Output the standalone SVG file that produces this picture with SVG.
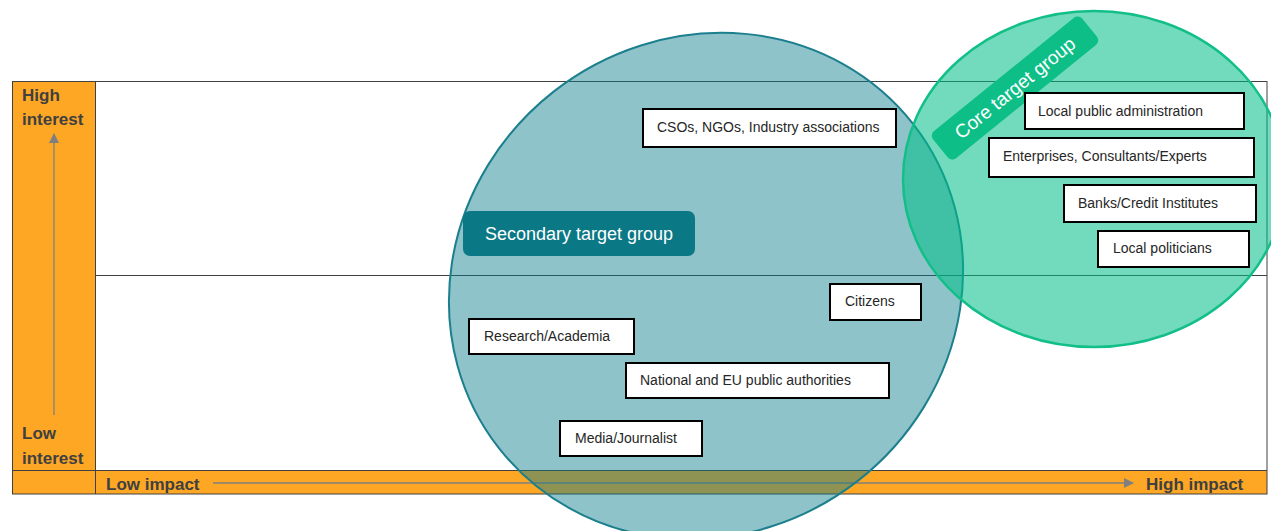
<svg xmlns="http://www.w3.org/2000/svg" width="1271" height="531" viewBox="0 0 1271 531">
  <style>
    .axis { font-family: "Liberation Sans", Arial, sans-serif; font-weight: bold; font-size: 17px; fill: #404040; }
    .box rect { fill: #ffffff; stroke: #000000; stroke-width: 2; }
    .box text { font-family: "Liberation Sans", Arial, sans-serif; font-size: 14px; fill: #262626; }
    .badge { font-family: "Liberation Sans", Arial, sans-serif; fill: #ffffff; }
    .grid { stroke: #404040; stroke-width: 1; fill: none; }
    .pointer { stroke: #7f7f7f; stroke-width: 1.3; fill: none; }
  </style>
  <defs>
    <marker id="tip" viewBox="0 0 10 10" refX="9" refY="5" markerWidth="10" markerHeight="10" markerUnits="userSpaceOnUse" orient="auto">
      <path d="M0,0 L10,5 L0,10 z" fill="#7f7f7f"/>
    </marker>
  </defs>

  <rect width="1271" height="531" fill="#ffffff"/>

  <!-- impact / interest matrix -->
  <g id="matrix">
    <rect x="12" y="81" width="83" height="413" fill="#fda724"/>
    <rect x="12" y="470" width="1255" height="24" fill="#fda724"/>
    <rect class="grid" x="12.5" y="81.5" width="1254.5" height="412.5"/>
    <line class="grid" x1="95.5" y1="81" x2="95.5" y2="494"/>
    <line class="grid" x1="12" y1="470.5" x2="1267" y2="470.5"/>
    <line class="grid" x1="95" y1="275.5" x2="1267" y2="275.5"/>
    <text class="axis" x="22" y="101">High</text>
    <text class="axis" x="22" y="125">interest</text>
    <text class="axis" x="22" y="439">Low</text>
    <text class="axis" x="22" y="464">interest</text>
    <text class="axis" x="106" y="490">Low impact</text>
    <text class="axis" x="1146" y="490">High impact</text>
  </g>

  <!-- axis arrows -->
  <g id="connectors">
    <line class="pointer" x1="54" y1="415" x2="54" y2="134" marker-end="url(#tip)"/>
    <line class="pointer" x1="213" y1="483" x2="1133" y2="483" marker-end="url(#tip)"/>
  </g>

  <!-- target group areas -->
  <g id="secondary-area">
    <ellipse cx="706" cy="286" rx="263" ry="247" transform="rotate(-38 706 286)" fill="rgb(11,125,140)" fill-opacity="0.46" stroke="#1b7f8d" stroke-width="2"/>
  </g>
  <g id="core-area">
    <ellipse cx="1094" cy="179" rx="191" ry="168" fill="rgb(0,190,135)" fill-opacity="0.55" stroke="#12bf88" stroke-width="2.5"/>
  </g>

  <g id="secondary-label">
    <rect x="463" y="211" width="232" height="45" rx="7" fill="#0b7886"/>
    <text class="badge" x="579" y="240" font-size="18" text-anchor="middle">Secondary target group</text>
  </g>
  <g id="core-label" transform="rotate(-39 1015 88)">
    <rect x="919" y="70.5" width="192" height="35" rx="6" fill="#0dbf87"/>
    <text class="badge" x="1015" y="94.5" font-size="19" text-anchor="middle">Core target group</text>
  </g>

  <!-- stakeholders -->
  <g id="cso" class="box">
    <rect x="643" y="109" width="253" height="38"/>
    <text x="657" y="132">CSOs, NGOs, Industry associations</text>
  </g>
  <g id="local-admin" class="box">
    <rect x="1025" y="93" width="219" height="36"/>
    <text x="1038" y="116">Local public administration</text>
  </g>
  <g id="enterprises" class="box">
    <rect x="989" y="138" width="265" height="39"/>
    <text x="1003" y="161">Enterprises, Consultants/Experts</text>
  </g>
  <g id="banks" class="box">
    <rect x="1064" y="185" width="192" height="37"/>
    <text x="1078" y="208">Banks/Credit Institutes</text>
  </g>
  <g id="politicians" class="box">
    <rect x="1098" y="231" width="151" height="36"/>
    <text x="1113" y="253">Local politicians</text>
  </g>
  <g id="citizens" class="box">
    <rect x="830" y="284" width="91" height="36"/>
    <text x="845" y="306">Citizens</text>
  </g>
  <g id="research" class="box">
    <rect x="469" y="319" width="165" height="35"/>
    <text x="484" y="341">Research/Academia</text>
  </g>
  <g id="authorities" class="box">
    <rect x="626" y="363" width="263" height="35"/>
    <text x="640" y="385">National and EU public authorities</text>
  </g>
  <g id="media" class="box">
    <rect x="560" y="421" width="142" height="35"/>
    <text x="575" y="443">Media/Journalist</text>
  </g>
</svg>
